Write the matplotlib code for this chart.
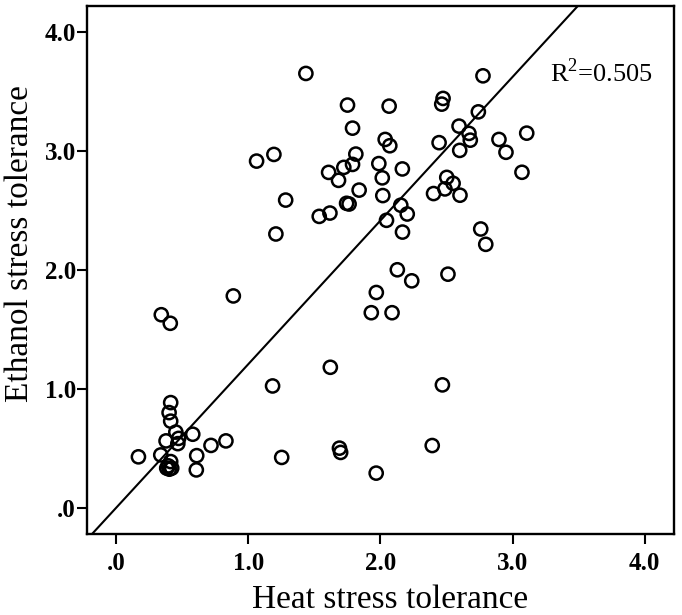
import numpy as np
import matplotlib
matplotlib.use("Agg")
import matplotlib.pyplot as plt

plt.rcParams['font.family'] = ['Liberation Serif', 'DejaVu Serif']
plt.rcParams['mathtext.fontset'] = 'custom'
plt.rcParams['mathtext.rm'] = 'Liberation Serif'

# heat stress tolerance (x) and ethanol stress tolerance (y)
heat = [1.436, 2.776, 1.751, 2.066, 2.474, 2.464, 2.741, 1.789, 2.595, 2.670,
        2.680, 2.897, 3.107, 2.036, 2.071, 2.444, 2.600, 2.950, 1.194, 1.063,
        1.814, 1.789, 1.723, 1.608, 1.683, 1.988, 2.166, 2.014, 3.071, 2.502,
        2.550, 2.488, 2.402, 2.602, 1.839, 2.018, 1.283, 1.744, 1.763, 2.154,
        2.203, 1.618, 1.537, 2.046, 2.167, 1.209, 2.759, 2.797, 2.128, 2.237,
        2.511, 1.969, 1.931, 2.088, 0.887, 0.342, 0.410, 1.621, 1.184, 2.469,
        1.690, 1.699, 2.392, 1.968, 0.413, 0.401, 0.413, 0.452, 0.580, 0.473,
        0.378, 0.467, 0.831, 0.718, 0.169, 0.338, 0.610, 1.253, 0.413, 0.395,
        0.403, 0.421, 0.383, 0.607]
ethanol = [3.653, 3.633, 3.387, 3.378, 3.443, 3.395, 3.330, 3.193, 3.210, 3.149,
           3.092, 3.098, 3.151, 3.098, 3.045, 3.071, 3.006, 2.990, 2.972, 2.916,
           2.975, 2.888, 2.863, 2.821, 2.754, 2.895, 2.850, 2.775, 2.822, 2.779,
           2.729, 2.682, 2.643, 2.629, 2.672, 2.626, 2.588, 2.561, 2.555, 2.545,
           2.471, 2.479, 2.451, 2.418, 2.319, 2.303, 2.345, 2.216, 2.002, 1.909,
           1.965, 1.811, 1.641, 1.641, 1.782, 1.624, 1.552, 1.182, 1.025, 1.034,
           0.502, 0.466, 0.524, 0.292, 0.885, 0.801, 0.729, 0.637, 0.619, 0.584,
           0.563, 0.540, 0.563, 0.525, 0.429, 0.445, 0.439, 0.424, 0.389, 0.353,
           0.325, 0.334, 0.334, 0.319]
# fit line as drawn in the figure
fit_slope = 1.208
fit_intercept = 0.0
ticks = [0, 1, 2, 3, 4]
tick_labels = ['.0', '1.0', '2.0', '3.0', '4.0']
r2_label = 'R$^{2}$=0.505'

fig = plt.figure(figsize=(6.82, 6.15), dpi=100)
ax = fig.add_axes([0.1276, 0.1317, 0.8604, 0.8585])

ax.scatter(heat, ethanol, s=90, facecolors='none', edgecolors='black',
           linewidths=1.8, zorder=3)

xs = np.array([-0.3, 4.3])
ax.plot(xs, fit_slope * xs + fit_intercept, color='black', linewidth=1.5, zorder=2)

ax.set_xlim(-0.22, 4.22)
ax.set_ylim(-0.22, 4.22)
ax.set_xticks(ticks)
ax.set_xticklabels(tick_labels, fontweight='bold', fontsize=18)
ax.set_yticks(ticks)
ax.set_yticklabels(tick_labels, fontweight='bold', fontsize=18)
ax.tick_params(direction='out', length=7, width=1.5)
ax.tick_params(axis='x', pad=6)
ax.tick_params(axis='y', pad=1)
for sp in ax.spines.values():
    sp.set_linewidth(1.7)

ax.set_xlabel('Heat stress tolerance', fontsize=24)
ax.xaxis.set_label_coords(0.516, -0.095)
ax.set_ylabel('Ethanol stress tolerance', fontsize=24)
ax.yaxis.set_label_coords(-0.088, 0.551)

ax.text(3.28, 3.66, r2_label, fontsize=19, ha='left', va='center')

fig.savefig('out.png', dpi=100)
